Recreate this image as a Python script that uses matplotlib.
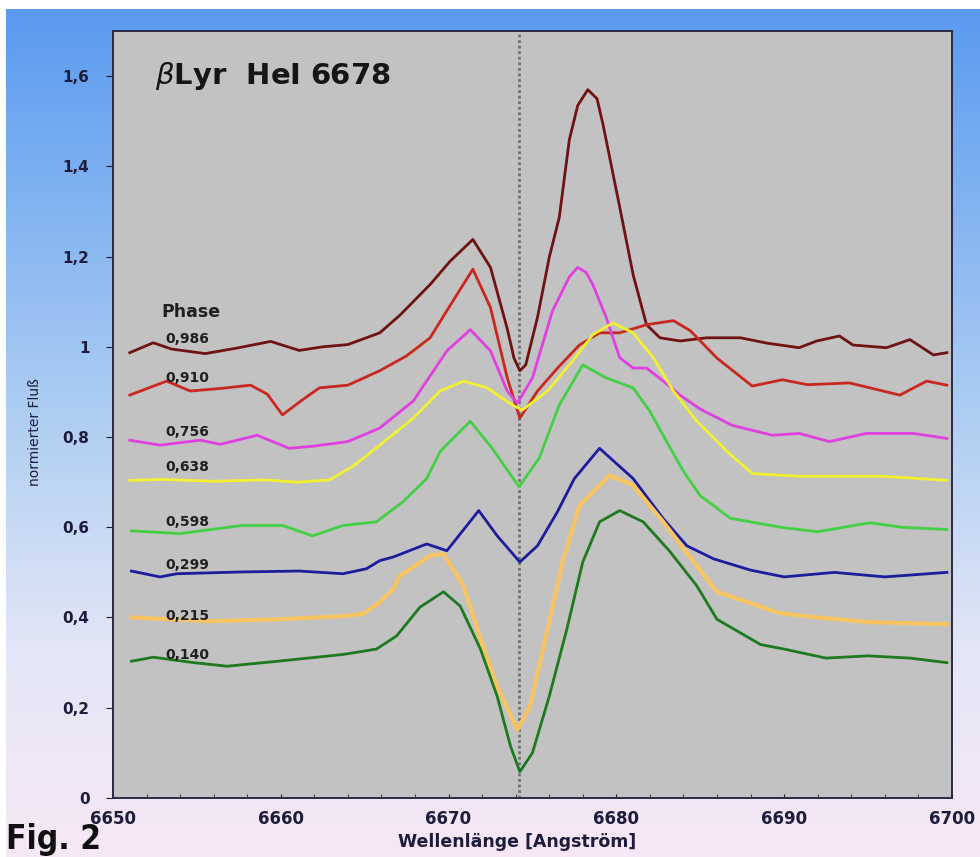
import numpy as np
import matplotlib.pyplot as plt
from matplotlib.colors import LinearSegmentedColormap

# spectra: wavelength [A] and normalised flux, per phase
wl_986 = [6651.0, 6652.4, 6653.5, 6655.5, 6657.5, 6659.4, 6661.1, 6662.5, 6664.0, 6665.9,
          6667.1, 6668.9, 6670.1, 6671.45, 6672.5, 6673.5, 6673.9, 6674.25, 6674.6, 6675.3,
          6676.0, 6676.6, 6677.2, 6677.7, 6678.3, 6678.85, 6679.2, 6680.2, 6681.0, 6681.8,
          6682.6, 6683.8, 6685.4, 6687.4, 6689.0, 6690.9, 6691.95, 6693.3, 6694.1, 6696.1,
          6697.5, 6698.9, 6699.7]
fx_986 = [0.987, 1.009, 0.995, 0.985, 0.998, 1.012, 0.992, 1.000, 1.005, 1.031,
          1.07, 1.138, 1.19, 1.238, 1.176, 1.04, 0.975, 0.947, 0.96, 1.065,
          1.198, 1.287, 1.459, 1.535, 1.570, 1.55, 1.494, 1.310, 1.160, 1.049,
          1.020, 1.013, 1.020, 1.020, 1.008, 0.998, 1.013, 1.024, 1.004, 0.998,
          1.016, 0.982, 0.987]

wl_910 = [6651.0, 6653.2, 6654.6, 6656.5, 6658.2, 6659.2, 6660.1, 6661.2, 6662.3, 6664.0,
          6665.9, 6667.5, 6668.9, 6669.9, 6671.45, 6672.5, 6673.5, 6674.25, 6675.3, 6676.5,
          6677.8, 6679.0, 6680.2, 6681.8, 6683.4, 6684.4, 6686.0, 6688.1, 6689.9, 6691.4,
          6693.9, 6696.9, 6698.5, 6699.7]
fx_910 = [0.893, 0.924, 0.902, 0.908, 0.915, 0.895, 0.849, 0.88, 0.909, 0.915,
          0.947, 0.98, 1.02, 1.08, 1.172, 1.087, 0.931, 0.842, 0.902, 0.953,
          1.004, 1.031, 1.031, 1.049, 1.058, 1.036, 0.975, 0.913, 0.927, 0.916,
          0.920, 0.893, 0.924, 0.915]

wl_756 = [6651.0, 6652.8, 6655.2, 6656.4, 6658.6, 6660.5, 6662.0, 6664.0, 6665.9, 6667.9,
          6669.9, 6671.3, 6672.5, 6673.5, 6674.1, 6675.0, 6676.2, 6677.2, 6677.7, 6678.2,
          6678.6, 6679.4, 6680.2, 6681.0, 6681.8, 6682.8, 6683.8, 6685.0, 6686.9, 6689.3,
          6690.9, 6692.7, 6694.9, 6697.7, 6699.7]
fx_756 = [0.793, 0.782, 0.793, 0.784, 0.804, 0.775, 0.78, 0.79, 0.82, 0.88,
          0.991, 1.038, 0.991, 0.902, 0.875, 0.931, 1.08, 1.155, 1.176, 1.165,
          1.138, 1.065, 0.976, 0.953, 0.953, 0.924, 0.893, 0.862, 0.826, 0.804,
          0.808, 0.790, 0.808, 0.808, 0.797]

wl_638 = [6651.0, 6653.0, 6656.0, 6659.0, 6661.0, 6662.9, 6664.3, 6665.9, 6667.9, 6669.5,
          6670.9, 6672.3, 6673.8, 6674.4, 6675.9, 6677.4, 6678.6, 6679.8, 6681.0, 6682.2,
          6683.4, 6684.8, 6686.6, 6688.1, 6690.9, 6695.9, 6699.7]
fx_638 = [0.704, 0.706, 0.702, 0.705, 0.700, 0.705, 0.735, 0.782, 0.842, 0.902,
          0.924, 0.909, 0.871, 0.86, 0.902, 0.969, 1.027, 1.053, 1.031, 0.976,
          0.902, 0.835, 0.768, 0.719, 0.713, 0.713, 0.704]

wl_598 = [6651.1, 6654.0, 6657.7, 6660.1, 6661.9, 6663.7, 6665.7, 6667.3, 6668.7, 6669.5,
          6671.3, 6672.6, 6674.2, 6675.4, 6676.6, 6678.0, 6679.4, 6681.0, 6682.0, 6683.0,
          6684.0, 6685.0, 6686.8, 6689.8, 6692.0, 6695.1, 6697.0, 6699.7]
fx_598 = [0.592, 0.586, 0.604, 0.604, 0.581, 0.604, 0.612, 0.657, 0.708, 0.768,
          0.835, 0.775, 0.69, 0.753, 0.871, 0.96, 0.931, 0.909, 0.857, 0.79,
          0.724, 0.67, 0.62, 0.60, 0.59, 0.61, 0.60, 0.595]

wl_299 = [6651.1, 6652.8, 6653.8, 6657.7, 6661.1, 6663.7, 6665.1, 6665.9, 6666.7, 6668.7,
          6669.9, 6671.8, 6672.9, 6674.25, 6675.3, 6676.5, 6677.5, 6679.0, 6681.0, 6682.8,
          6684.2, 6685.8, 6688.0, 6690.0, 6693.0, 6696.0, 6699.7]
fx_299 = [0.503, 0.49, 0.497, 0.501, 0.503, 0.497, 0.508, 0.526, 0.534, 0.563,
          0.548, 0.637, 0.581, 0.523, 0.559, 0.635, 0.708, 0.775, 0.708, 0.619,
          0.559, 0.53, 0.505, 0.49, 0.50, 0.49, 0.50]

wl_215 = [6651.1, 6655.8, 6659.8, 6663.7, 6664.9, 6665.9, 6666.7, 6667.1, 6668.9, 6669.7,
          6670.9, 6671.9, 6672.9, 6674.1, 6674.85, 6675.9, 6676.8, 6677.8, 6679.6, 6681.0,
          6682.8, 6684.8, 6686.0, 6689.7, 6692.0, 6695.0, 6699.7]
fx_215 = [0.40, 0.392, 0.396, 0.403, 0.408, 0.434, 0.463, 0.492, 0.537, 0.541,
          0.47, 0.352, 0.247, 0.151, 0.203, 0.374, 0.523, 0.648, 0.715, 0.693,
          0.612, 0.514, 0.457, 0.41, 0.40, 0.39, 0.385]

wl_140 = [6651.1, 6652.4, 6654.8, 6656.8, 6659.8, 6663.7, 6665.7, 6666.9, 6668.3, 6669.7,
          6670.7, 6671.9, 6672.9, 6673.7, 6674.25, 6675.0, 6676.0, 6677.05, 6678.0, 6679.0,
          6680.2, 6681.6, 6683.2, 6684.8, 6686.0, 6688.6, 6690.0, 6692.5, 6695.0, 6697.5,
          6699.7]
fx_140 = [0.303, 0.312, 0.30, 0.292, 0.303, 0.318, 0.33, 0.359, 0.423, 0.457,
          0.425, 0.33, 0.225, 0.114, 0.058, 0.10, 0.225, 0.374, 0.523, 0.612,
          0.637, 0.612, 0.546, 0.47, 0.396, 0.34, 0.33, 0.31, 0.315, 0.31,
          0.30]

phases = ['0,986', '0,910', '0,756', '0,638', '0,598', '0,299', '0,215', '0,140']
wavelengths = [wl_986, wl_910, wl_756, wl_638, wl_598, wl_299, wl_215, wl_140]
fluxes = [fx_986, fx_910, fx_756, fx_638, fx_598, fx_299, fx_215, fx_140]
colors = ['#6e1212', '#c8281e', '#e040e0', '#f2f030', '#44d044', '#1c1c9c', '#f8c462', '#1e7a1e']

line_center = 6674.2
y_ticks = [0, 0.2, 0.4, 0.6, 0.8, 1.0, 1.2, 1.4, 1.6]
y_ticklabels = ['0', '0,2', '0,4', '0,6', '0,8', '1', '1,2', '1,4', '1,6']
x_ticks = [6650, 6660, 6670, 6680, 6690, 6700]

fig = plt.figure(figsize=(9.8, 8.57), dpi=100)

# background gradient (blue at top fading to pale pink)
bg = fig.add_axes([0.006, 0, 0.994, 0.99], zorder=-1)
cmap = LinearSegmentedColormap.from_list('bg', [(0.0, '#f8e8f6'), (0.25, '#e2e6f6'),
                                                (0.55, '#a8cbf2'), (1.0, '#5a9af0')])
grad = np.linspace(0, 1, 256).reshape(-1, 1)
bg.imshow(grad, aspect='auto', cmap=cmap, origin='lower', extent=[0, 1, 0, 1])
bg.axis('off')

ax = fig.add_axes([0.1153, 0.0689, 0.856, 0.8949])
ax.set_facecolor('#c2c2c2')

ax.axvline(line_center, color='#707070', lw=2, ls=(0, (1, 1)), zorder=1)

for wl, fx, c in zip(wavelengths, fluxes, colors):
    lw = 3.0 if c == '#f8c462' else 2.0
    ax.plot(wl, fx, color=c, lw=lw, zorder=2, solid_joinstyle='round')

ax.set_xlim(6650, 6700)
ax.set_ylim(0, 1.7)
ax.set_xticks(x_ticks)
ax.set_xticks(np.arange(6650, 6701, 2), minor=True)
ax.set_yticks(y_ticks)
ax.set_yticklabels(y_ticklabels)

navy = '#1c1c3c'
for s in ax.spines.values():
    s.set_color('#2a2a48')
    s.set_linewidth(1.4)
ax.tick_params(axis='y', direction='out', length=5, color=navy, pad=12,
               labelsize=11, labelcolor=navy)
ax.tick_params(axis='x', which='both', direction='in', length=3, color=navy, pad=9,
               labelsize=12, labelcolor=navy)
for lab in ax.get_xticklabels() + ax.get_yticklabels():
    lab.set_fontweight('bold')

ax.text(6652.5, 1.6, r'$\beta$Lyr  HeI 6678', fontsize=21, fontweight='bold',
        color='#151515', va='center', ha='left')

# phase labels
ax.text(6652.9, 1.078, 'Phase', fontsize=12.5, fontweight='bold', color='#202020', va='center')
label_y = [1.018, 0.931, 0.811, 0.733, 0.612, 0.517, 0.403, 0.316]
for p, y in zip(phases, label_y):
    ax.text(6653.1, y, p, fontsize=10, fontweight='bold', color='#202020', va='center')

fig.text(0.528, 0.0175, 'Wellenlänge [Angström]', fontsize=12.5, fontweight='bold',
         color=navy, ha='center', va='center')
fig.text(0.036, 0.496, 'normierter Fluß', fontsize=10, rotation=90, color=navy,
         ha='center', va='center')
fig.text(0.006, 0.02, 'Fig. 2', fontsize=24, fontweight='bold', color='#101010',
         ha='left', va='center', fontstretch='condensed')

fig.savefig('out.png', dpi=100)
